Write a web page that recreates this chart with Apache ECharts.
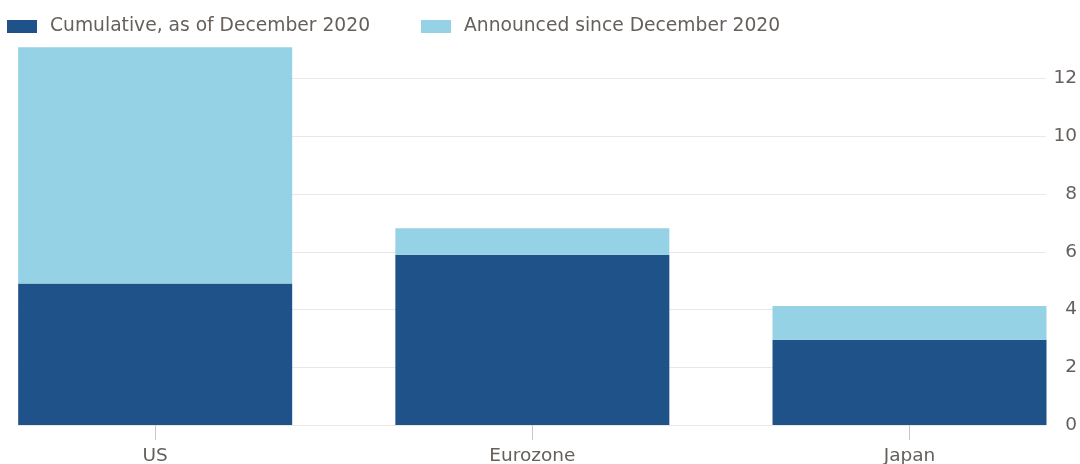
<!DOCTYPE html>
<html>
<head>
<meta charset="utf-8">
<script src="https://cdn.jsdelivr.net/npm/echarts@6/dist/echarts.min.js"></script>
<style>
html,body{margin:0;padding:0;background:#fff;}
#chart{width:1080px;height:464px;}
</style>
</head>
<body>
<div id="chart"></div>
<script>
const categories = ['US', 'Eurozone', 'Japan'];
const cumulative = [4.9, 5.9, 2.95];
const announced = [8.18, 0.91, 1.17];
const yTicks = [0, 2, 4, 6, 8, 10, 12];

const FONT = '"DejaVu Sans", sans-serif';
const TEXT = '#66605c';
const chart = echarts.init(document.getElementById('chart'));
chart.setOption({
  animation: false,
  backgroundColor: '#ffffff',
  legend: {
    left: 2, top: 12,
    itemWidth: 30, itemHeight: 13, itemGap: 51,
    icon: 'rect',
    textStyle: { color: TEXT, fontFamily: FONT, fontSize: 18.7, padding: [0, 0, 0, 8] },
    data: ['Cumulative, as of December 2020', 'Announced since December 2020']
  },
  grid: [
    { left: 18, right: 34, top: 78.5, bottom: 39, outerBoundsMode: 'none' },
    { left: -33.4, width: 1131.5, top: 78.5, bottom: 39, outerBoundsMode: 'none' }
  ],
  xAxis: [
    { gridIndex: 0, type: 'category', data: categories, show: false },
    { gridIndex: 1, type: 'category', data: categories,
      axisLine: { show: false },
      axisTick: { show: true, alignWithLabel: true, length: 15, lineStyle: { color: '#cbc6c2' } },
      axisLabel: { color: TEXT, fontFamily: FONT, fontSize: 18.5, margin: 22 } }
  ],
  yAxis: [
    { gridIndex: 0, type: 'value', position: 'right', min: yTicks[0], max: yTicks[yTicks.length - 1], interval: 2,
      axisLine: { show: false }, axisTick: { show: false },
      splitLine: { lineStyle: { color: '#ece7e3', width: 1 } },
      axisLabel: { color: TEXT, fontFamily: FONT, fontSize: 18.5, align: 'right', margin: 31 } },
    { gridIndex: 1, type: 'value', min: yTicks[0], max: yTicks[yTicks.length - 1], show: false }
  ],
  series: [
    { name: 'Cumulative, as of December 2020', type: 'bar', stack: 'total', xAxisIndex: 1, yAxisIndex: 1,
      data: cumulative, barWidth: 274, clip: false, itemStyle: { color: '#20528a' } },
    { name: 'Announced since December 2020', type: 'bar', stack: 'total', xAxisIndex: 1, yAxisIndex: 1,
      data: announced, barWidth: 274, clip: false, itemStyle: { color: '#95d2e5' } }
  ]
});
</script>
</body>
</html>
